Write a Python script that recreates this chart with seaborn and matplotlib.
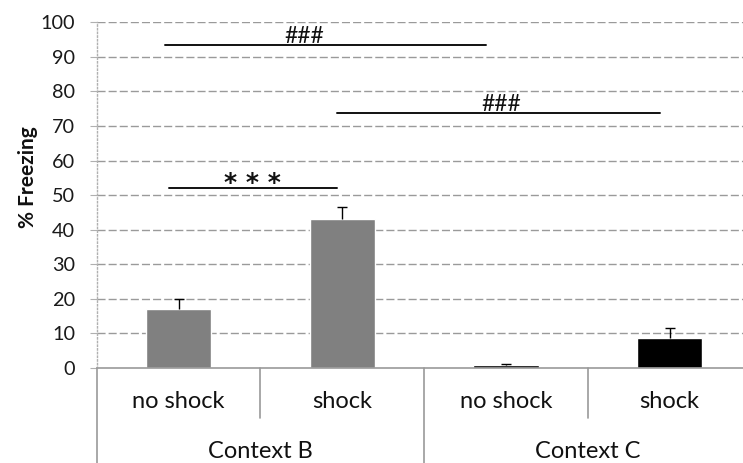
import matplotlib
matplotlib.use("Agg")
import matplotlib.pyplot as plt
import matplotlib.transforms as mtransforms
import seaborn as sns
import pandas as pd

# ---- data ----
conditions = ["no shock", "shock", "no shock", "shock"]
contexts = ["Context B", "Context B", "Context C", "Context C"]
context_names = ["Context B", "Context C"]
freezing = [17.1, 43.1, 0.8, 8.7]
sem = [2.8, 3.6, 0.4, 3.0]
bar_colors = ["#808080", "#808080", "#000000", "#000000"]
y_ticks = list(range(0, 101, 10))

# significance annotations
sig_lines_x0 = [-0.08, 0.97, -0.06]
sig_lines_x1 = [1.88, 2.94, 0.97]
sig_lines_y = [93.3, 73.7, 52.2]
sig_texts = ["###", "###", "* * *"]
sig_text_x = [0.77, 1.97, 0.45]

sns.set_theme(style="white")
plt.rcParams["font.family"] = ["Lato", "DejaVu Sans"]

df = pd.DataFrame({
    "pos": [f"{c}|{k}" for c, k in zip(contexts, conditions)],
    "freezing": freezing,
})

fig = plt.figure(figsize=(7.43, 4.63), dpi=100)
ax = fig.add_axes([96.7 / 743, 95 / 463, 654.8 / 743, 345.7 / 463])

sns.barplot(data=df, x="pos", y="freezing", hue="pos", palette=bar_colors,
            width=0.40, legend=False, ax=ax, saturation=1, errorbar=None,
            zorder=3)

xs = list(range(len(freezing)))
tops = [f + s for f, s in zip(freezing, sem)]
ax.errorbar(xs, freezing, yerr=[[0] * len(sem), sem], fmt="none",
            ecolor="black", elinewidth=1.0, capsize=0, zorder=4)
ax.plot(xs, tops, linestyle="none", marker="_", markersize=7,
        markeredgewidth=1.0, color="black", zorder=4)

ax.set_xlim(-0.5, len(freezing) - 0.5)
ax.set_ylim(0, 100)
ax.set_yticks(y_ticks)
ax.set_yticklabels([str(t) for t in y_ticks], fontsize=14.3, color="#1a1a1a")
ax.tick_params(axis="y", length=5, width=0.8, color="#b0b0b0", pad=10.5,
               left=True)
ax.tick_params(axis="x", bottom=False, labelbottom=False)
ax.set_xlabel("")
ax.set_ylabel("% Freezing", fontsize=15, fontweight="bold",
              color="#111111")
ax.yaxis.set_label_coords(-0.089, 0.551)

# grid
for t in y_ticks[1:]:
    ax.axhline(t, color="#9a9a9a", lw=1.0, linestyle=(0, (5.8, 2.2)),
               zorder=1)

for s in ["top", "right"]:
    ax.spines[s].set_visible(False)
ax.spines["left"].set_color("#b0b0b0")
ax.spines["left"].set_linestyle(":")
ax.spines["left"].set_linewidth(1.0)
ax.spines["bottom"].set_color("#9a9a9a")
ax.spines["bottom"].set_linewidth(1.2)
ax.spines["bottom"].set_zorder(5)

# multi-level category axis
trans = mtransforms.blended_transform_factory(ax.transData, ax.transAxes)
n = len(freezing)
for i in range(n + 1):
    xb = i - 0.5
    y_end = -0.30 if i % 2 == 0 else -0.145
    ax.plot([xb, xb], [0, y_end], transform=trans, color="#9a9a9a",
            lw=1.2, clip_on=False)
for i, lab in enumerate(conditions):
    ax.text(i, -0.0975, lab, transform=trans, ha="center", va="center",
            fontsize=17, color="#111111")
for j, name in enumerate(context_names):
    ax.text(2 * j + 0.5, -0.242, name, transform=trans, ha="center",
            va="center", fontsize=17, color="#111111")

# significance annotations
for x0, x1, y, txt, tx in zip(sig_lines_x0, sig_lines_x1, sig_lines_y,
                              sig_texts, sig_text_x):
    ax.plot([x0, x1], [y, y], color="#111111", lw=1.4, zorder=6,
            clip_on=False)
    if "*" in txt:
        ax.text(tx, y - 0.8, txt, ha="center", va="baseline", fontsize=18,
                fontweight="bold", color="#111111", zorder=7,
                family="DejaVu Sans")
    else:
        ax.text(tx, y + 0.6, txt, ha="center", va="baseline", fontsize=16.5,
                color="#111111", zorder=7)

fig.savefig("out.png", dpi=100)
